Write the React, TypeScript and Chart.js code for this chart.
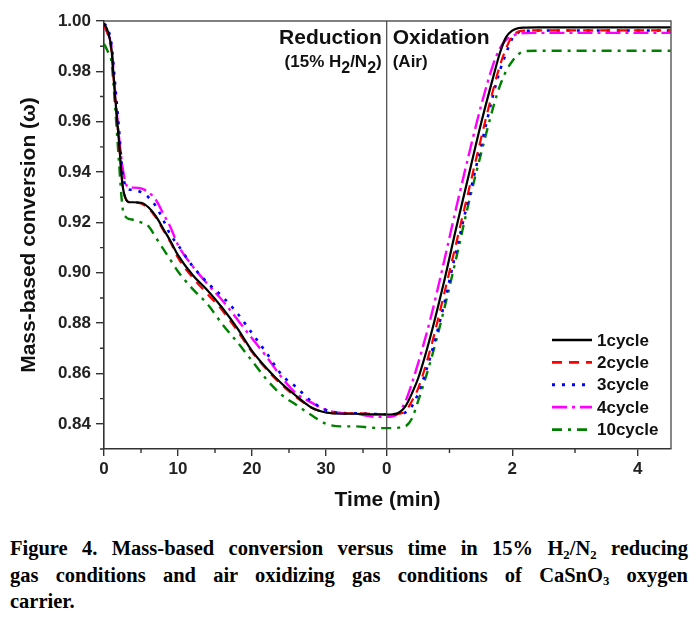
import React, { useEffect, useRef } from "react";
import { Chart, registerables } from "chart.js";

Chart.register(...registerables);

// ---------- data ----------
const seriesNames = ["1cycle", "2cycle", "3cycle", "4cycle", "10cycle"];
const seriesColors = ["#000000", "#ff0000", "#0000ff", "#ff00ff", "#008000"];
const seriesDashes = [[], [10, 7], [3, 7], [15, 5, 3, 5], [10, 6, 3, 6]];
const seriesWidths = [2.2, 2.2, 2.6, 2.4, 2.4];

// reduction stage (15% H2/N2), minutes
const reductionTime = [0, 0.5, 1, 1.5, 2, 2.5, 3, 3.5, 4, 5, 6, 7, 8, 9, 10, 12, 14, 16, 18, 20, 22, 24, 26, 28, 30, 32, 34, 36, 37.5];
const reduction1 = [0.999, 0.996, 0.989, 0.970, 0.953, 0.935, 0.929, 0.928, 0.928, 0.9278, 0.926, 0.9225, 0.9175, 0.9125, 0.907, 0.899, 0.893, 0.886, 0.878, 0.869, 0.862, 0.856, 0.851, 0.8465, 0.8445, 0.844, 0.844, 0.8438, 0.8437];
const reduction2 = [0.998, 0.995, 0.988, 0.970, 0.953, 0.935, 0.929, 0.928, 0.928, 0.9275, 0.9255, 0.922, 0.917, 0.912, 0.906, 0.898, 0.8915, 0.885, 0.877, 0.8685, 0.8615, 0.8555, 0.8505, 0.8465, 0.8445, 0.8442, 0.8442, 0.844, 0.8438];
const reduction3 = [0.999, 0.997, 0.991, 0.975, 0.958, 0.940, 0.934, 0.933, 0.933, 0.932, 0.930, 0.9265, 0.921, 0.915, 0.911, 0.9025, 0.896, 0.8905, 0.884, 0.876, 0.868, 0.8595, 0.8545, 0.849, 0.8455, 0.8443, 0.8442, 0.844, 0.8438];
const reduction4 = [0.998, 0.995, 0.990, 0.972, 0.955, 0.942, 0.935, 0.9338, 0.9338, 0.9335, 0.932, 0.929, 0.9235, 0.918, 0.911, 0.9025, 0.8955, 0.889, 0.8815, 0.874, 0.8665, 0.8585, 0.852, 0.8485, 0.8455, 0.8443, 0.844, 0.843, 0.8428];
const reduction10 = [0.991, 0.988, 0.984, 0.966, 0.945, 0.926, 0.922, 0.9213, 0.921, 0.920, 0.9185, 0.914, 0.9095, 0.905, 0.9005, 0.8935, 0.8875, 0.8795, 0.8725, 0.865, 0.8575, 0.8515, 0.8475, 0.8435, 0.840, 0.839, 0.839, 0.8385, 0.8383];

// oxidation stage (Air), minutes
const oxidationTime = [0, 0.1, 0.2, 0.3, 0.4, 0.5, 0.7, 0.9, 1.1, 1.3, 1.5, 1.7, 1.8, 1.9, 2.0, 2.1, 2.2, 2.4, 3.0, 4.0, 4.53];
const oxidation1 = [0.8437, 0.8438, 0.8445, 0.847, 0.852, 0.858, 0.875, 0.895, 0.917, 0.938, 0.959, 0.978, 0.987, 0.9935, 0.9962, 0.9972, 0.9974, 0.9975, 0.9975, 0.9975, 0.9975];
const oxidation2 = [0.8437, 0.8437, 0.844, 0.845, 0.849, 0.854, 0.870, 0.890, 0.911, 0.932, 0.953, 0.973, 0.982, 0.989, 0.994, 0.9958, 0.9962, 0.9963, 0.9963, 0.9963, 0.9963];
const oxidation3 = [0.8438, 0.8438, 0.844, 0.8445, 0.847, 0.852, 0.867, 0.886, 0.908, 0.929, 0.950, 0.971, 0.980, 0.987, 0.993, 0.9955, 0.996, 0.9962, 0.9962, 0.9962, 0.9962];
const oxidation4 = [0.8428, 0.843, 0.8445, 0.849, 0.856, 0.864, 0.882, 0.903, 0.925, 0.946, 0.966, 0.983, 0.989, 0.9925, 0.994, 0.995, 0.9952, 0.9953, 0.9953, 0.9953, 0.9953];
const oxidation10 = [0.8383, 0.8383, 0.8385, 0.839, 0.842, 0.849, 0.865, 0.884, 0.905, 0.927, 0.947, 0.966, 0.974, 0.980, 0.984, 0.9868, 0.988, 0.9882, 0.9882, 0.9882, 0.9882];

const reductionSeries = [reduction1, reduction2, reduction3, reduction4, reduction10];
const oxidationSeries = [oxidation1, oxidation2, oxidation3, oxidation4, oxidation10];

const reductionTicks = [0, 10, 20, 30];
const reductionMinorTicks = [5, 15, 25, 35];
const oxidationTicks = [0, 2, 4];
const oxidationMinorTicks = [1, 3];
const yTicks = [0.84, 0.86, 0.88, 0.9, 0.92, 0.94, 0.96, 0.98, 1.0];
const yMinorTicks = [0.83, 0.85, 0.87, 0.89, 0.91, 0.93, 0.95, 0.97, 0.99];

// axis break mapping: reduction segment length and oxidation scale factor
const REDUCTION_END = 38.2;
const OX_MAX = 4.53;
const OX_FACTOR = 8.48;
const Y_MIN = 0.83;
const Y_MAX = 1.0;

const oxToX = (s: number) => REDUCTION_END + s * OX_FACTOR;

const SANS = '"Liberation Sans", Arial, Helvetica, sans-serif';
const AXIS_COLOR = "#333333";

const decorPlugin = {
  id: "decor",
  afterDraw(chart: any) {
    const { ctx, chartArea, scales } = chart;
    const xs = scales.x;
    const ys = scales.y;
    ctx.save();
    // frame top/right
    ctx.strokeStyle = "#555555";
    ctx.lineWidth = 1.4;
    ctx.beginPath();
    ctx.moveTo(chartArea.left, chartArea.top);
    ctx.lineTo(chartArea.right, chartArea.top);
    ctx.lineTo(chartArea.right, chartArea.bottom);
    ctx.stroke();
    // separator
    const sepX = xs.getPixelForValue(REDUCTION_END);
    ctx.strokeStyle = "#444444";
    ctx.lineWidth = 1.2;
    ctx.beginPath();
    ctx.moveTo(sepX, chartArea.top);
    ctx.lineTo(sepX, chartArea.bottom);
    ctx.stroke();
    // minor ticks
    ctx.strokeStyle = AXIS_COLOR;
    ctx.lineWidth = 1.4;
    ctx.beginPath();
    const minorX = [...reductionMinorTicks, ...oxidationMinorTicks.map(oxToX)];
    minorX.forEach((v) => {
      const px = xs.getPixelForValue(v);
      ctx.moveTo(px, chartArea.bottom);
      ctx.lineTo(px, chartArea.bottom + 4);
    });
    yMinorTicks.forEach((v) => {
      const py = ys.getPixelForValue(v);
      ctx.moveTo(chartArea.left, py);
      ctx.lineTo(chartArea.left - 4, py);
    });
    ctx.stroke();

    // stage labels
    ctx.fillStyle = "#111111";
    ctx.textBaseline = "alphabetic";
    ctx.font = `bold 21px ${SANS}`;
    ctx.textAlign = "right";
    ctx.fillText("Reduction", sepX - 5, 44);
    ctx.textAlign = "left";
    ctx.fillText("Oxidation", sepX + 6, 44);

    // (15% H2/N2)
    const drawRich = (parts: [string, boolean][], x: number, y: number, align: string) => {
      const main = `bold 17px ${SANS}`;
      const sub = `bold 16px ${SANS}`;
      let total = 0;
      parts.forEach(([t, s]) => {
        ctx.font = s ? sub : main;
        total += ctx.measureText(t).width;
      });
      let cx = align === "right" ? x - total : x;
      ctx.textAlign = "left";
      parts.forEach(([t, s]) => {
        ctx.font = s ? sub : main;
        ctx.fillText(t, cx, s ? y + 6 : y);
        cx += ctx.measureText(t).width;
      });
    };
    drawRich([["(15% H", false], ["2", true], ["/N", false], ["2", true], [")", false]], sepX - 5, 67, "right");
    drawRich([["(Air)", false]], sepX + 6, 67, "left");

    // legend
    const lx0 = chartArea.right - 119;
    const lx1 = chartArea.right - 79;
    let ly = chartArea.bottom - 109;
    seriesNames.forEach((name, i) => {
      ctx.strokeStyle = seriesColors[i];
      ctx.lineWidth = seriesWidths[i] + 0.4;
      ctx.setLineDash(seriesDashes[i]);
      ctx.beginPath();
      ctx.moveTo(lx0, ly);
      ctx.lineTo(lx1, ly);
      ctx.stroke();
      ctx.setLineDash([]);
      ctx.fillStyle = "#111111";
      ctx.font = `bold 17px ${SANS}`;
      ctx.textAlign = "left";
      ctx.textBaseline = "middle";
      ctx.fillText(name, lx1 + 5, ly + 1);
      ly += 22.4;
    });
    ctx.restore();
  },
};

export default function App() {
  const canvasRef = useRef<HTMLCanvasElement | null>(null);

  useEffect(() => {
    document.body.style.margin = "0";
    const canvas = canvasRef.current;
    if (!canvas) return;

    const datasets = seriesNames.map((name, i) => {
      const pts = [
        ...reductionTime.map((t, j) => ({ x: t, y: reductionSeries[i][j] })),
        ...oxidationTime.map((s, j) => ({ x: oxToX(s), y: oxidationSeries[i][j] })),
      ];
      return {
        label: name,
        data: pts,
        borderColor: seriesColors[i],
        backgroundColor: seriesColors[i],
        borderWidth: seriesWidths[i],
        borderDash: seriesDashes[i],
        pointRadius: 0,
        fill: false,
        cubicInterpolationMode: "monotone" as const,
      };
    });

    const chart = new Chart(canvas, {
      type: "line",
      data: { datasets },
      plugins: [decorPlugin],
      options: {
        animation: false,
        responsive: false,
        layout: { padding: { left: 0, right: 27, top: 21, bottom: 0 } },
        plugins: {
          legend: { display: false },
          tooltip: { enabled: false },
        },
        scales: {
          x: {
            type: "linear",
            min: 0,
            max: oxToX(OX_MAX),
            afterBuildTicks: (scale: any) => {
              scale.ticks = [
                ...reductionTicks.map((v) => ({ value: v })),
                ...oxidationTicks.map((s) => ({ value: oxToX(s) })),
              ];
            },
            afterFit: (scale: any) => {
              scale.height = 535 - 449;
            },
            ticks: {
              autoSkip: false,
              maxRotation: 0,
              padding: 3,
              color: "#222222",
              font: { family: SANS, size: 17, weight: "bold" },
              callback: (value: any) => {
                const v = Number(value);
                if (v < REDUCTION_END - 0.01) return String(Math.round(v));
                return String(Math.round((v - REDUCTION_END) / OX_FACTOR));
              },
            },
            grid: { display: true, drawOnChartArea: false, drawTicks: true, tickLength: 7, color: AXIS_COLOR, lineWidth: 1.4 },
            border: { display: true, color: AXIS_COLOR, width: 1.6 },
            title: {
              display: true,
              text: "Time (min)",
              color: "#111111",
              font: { family: SANS, size: 21, weight: "bold" },
              padding: { top: 0, bottom: 22 },
            },
          },
          y: {
            type: "linear",
            min: Y_MIN,
            max: Y_MAX,
            afterBuildTicks: (scale: any) => {
              scale.ticks = yTicks.map((v) => ({ value: v }));
            },
            afterFit: (scale: any) => {
              scale.width = 104;
            },
            ticks: {
              autoSkip: false,
              padding: 5,
              color: "#222222",
              font: { family: SANS, size: 17, weight: "bold" },
              callback: (value: any) => Number(value).toFixed(2),
            },
            grid: { display: true, drawOnChartArea: false, drawTicks: true, tickLength: 8, color: AXIS_COLOR, lineWidth: 1.4 },
            border: { display: true, color: AXIS_COLOR, width: 1.6 },
            title: {
              display: true,
              text: "Mass-based conversion (ω)",
              color: "#111111",
              font: { family: SANS, size: 21, weight: "bold" },
              padding: { top: 17, bottom: 0 },
            },
          },
        },
      },
    });
    return () => chart.destroy();
  }, []);

  const subStyle: React.CSSProperties = { fontSize: "0.62em", verticalAlign: "baseline", position: "relative", top: "0.28em", lineHeight: 0 };
  const lineStyle: React.CSSProperties = { textAlign: "justify", textAlignLast: "justify" as any };

  return (
    <div style={{ width: 698 }}>
      <canvas ref={canvasRef} width={698} height={535} style={{ display: "block", width: 698, height: 535 }} />
      <div
        style={{
          fontFamily: '"Liberation Serif", "Times New Roman", serif',
          fontWeight: "bold",
          fontSize: 20.5,
          lineHeight: "26.5px",
          color: "#000000",
          padding: "0 10px 0 10px",
        }}
      >
        <div style={lineStyle}>
          Figure 4. Mass-based conversion versus time in 15% H<sub style={subStyle}>2</sub>/N<sub style={subStyle}>2</sub> reducing
        </div>
        <div style={lineStyle}>
          gas conditions and air oxidizing gas conditions of CaSnO<sub style={subStyle}>3</sub> oxygen
        </div>
        <div>carrier.</div>
      </div>
    </div>
  );
}
